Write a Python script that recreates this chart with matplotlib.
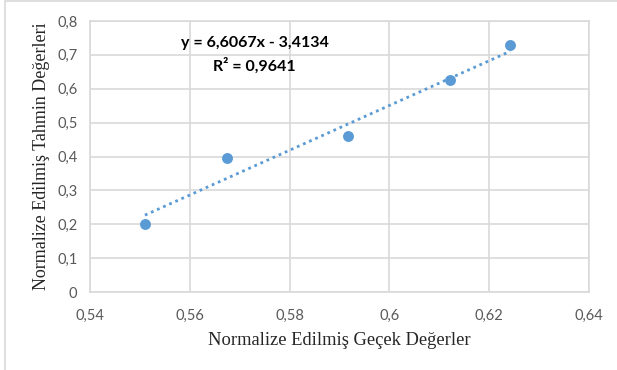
import numpy as np
import matplotlib
matplotlib.use("Agg")
import matplotlib.pyplot as plt
from matplotlib.ticker import FuncFormatter, MultipleLocator
from matplotlib.patches import Rectangle

# normalized actual values (x) vs normalized predicted values (y)
actual = [0.5510, 0.5675, 0.5917, 0.6121, 0.6242]
predicted = [0.200, 0.395, 0.460, 0.626, 0.729]
slope, intercept = 6.6067, -3.4134
r2 = 0.9641

BLUE = "#5b9bd5"
GRID = "#d9d9d9"
TICK = "#595959"


def comma(v, _pos):
    return f"{v:g}".replace(".", ",")


fig = plt.figure(figsize=(6.17, 3.70), dpi=100)
ax = fig.add_axes([90 / 617, 1 - 292 / 370, 499 / 617, 271 / 370])

ax.scatter(actual, predicted, s=62, color=BLUE, zorder=3, linewidths=0)
xs = np.array([min(actual), max(actual)])
ax.plot(xs, slope * xs + intercept, color=BLUE, lw=2, ls=(0, (1, 1.4)), zorder=2)

ax.set_xlim(0.54, 0.64)
ax.set_ylim(0, 0.8)
ax.xaxis.set_major_locator(MultipleLocator(0.02))
ax.yaxis.set_major_locator(MultipleLocator(0.1))
ax.xaxis.set_major_formatter(FuncFormatter(comma))
ax.yaxis.set_major_formatter(FuncFormatter(comma))
ax.tick_params(length=0, labelsize=10.5, labelcolor=TICK)
ax.tick_params(axis="x", pad=12)
ax.tick_params(axis="y", pad=9)
for lab in ax.get_xticklabels() + ax.get_yticklabels():
    lab.set_fontfamily("Lato")
ax.grid(color=GRID, lw=1.2)
ax.set_axisbelow(True)
for sp in ax.spines.values():
    sp.set_color(GRID)
    sp.set_linewidth(1.2)

ax.set_xlabel("Normalize Edilmiş Geçek Değerler", fontfamily="Liberation Serif",
              fontsize=13.3, color="#262626", labelpad=7)
ax.set_ylabel("Normalize Edilmiş Tahmin Değerleri", fontfamily="Liberation Serif",
              fontsize=13, color="#262626", labelpad=5)

ax.text(0.573, 0.735, f"y = {slope:.4f}x - {abs(intercept):.4f}".replace(".", ","),
        ha="center", va="center", fontfamily="Lato", fontweight="bold", fontsize=11.5)
ax.text(0.573, 0.667, f"R² = {r2:.4f}".replace(".", ","),
        ha="center", va="center", fontfamily="Lato", fontweight="bold", fontsize=11.5)

# outer chart frame
fig.add_artist(Rectangle((5 / 617, -0.01), 1.0, 1 - 0.5 / 370 + 0.01, transform=fig.transFigure,
                         fill=False, edgecolor=GRID, lw=1.2))

fig.savefig("out.png", dpi=100)
